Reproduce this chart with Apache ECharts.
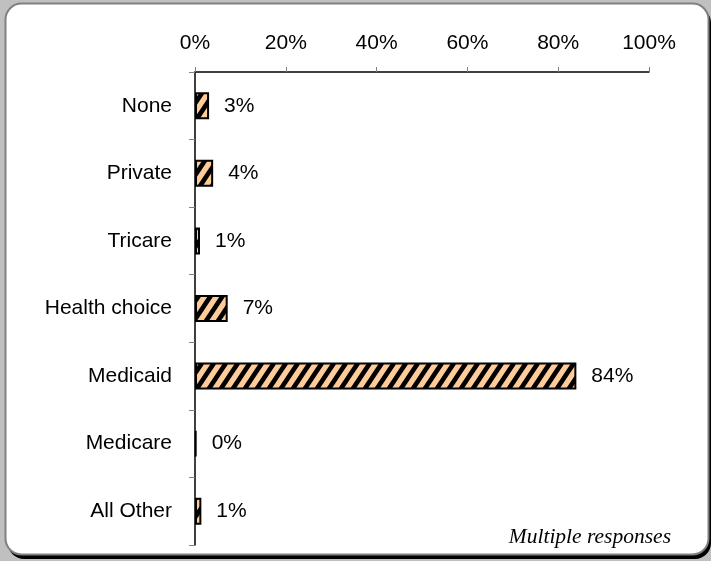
<!DOCTYPE html>
<html><head><meta charset="utf-8">
<script src="https://cdn.jsdelivr.net/npm/echarts@6/dist/echarts.min.js"></script>
<style>html,body{margin:0;padding:0;background:#c0c0c0;}#c{width:711px;height:561px;}</style>
</head><body><div id="c"></div>
<script>
var categories = ['None', 'Private', 'Tricare', 'Health choice', 'Medicaid', 'Medicare', 'All Other'];
var values = [3.1, 4.0, 1.1, 7.2, 84.0, 0.3, 1.4];
var tickLabels = ['0%', '20%', '40%', '60%', '80%', '100%'];

function makePattern() {
  var w = 12, h = 18;
  var cv = document.createElement('canvas');
  cv.width = w; cv.height = h;
  var ctx = cv.getContext('2d');
  ctx.fillStyle = '#FFCC99';
  ctx.fillRect(0, 0, w, h);
  ctx.strokeStyle = '#000';
  ctx.lineWidth = 4.6;
  ctx.beginPath();
  for (var k = -2; k <= 2; k++) {
    ctx.moveTo(k * w - w, 2 * h); ctx.lineTo(k * w + 2 * w, -h);
  }
  ctx.stroke();
  return cv;
}

var FONT = 'Liberation Sans, Arial, sans-serif';
var chart = echarts.init(document.getElementById('c'));
chart.setOption({
  backgroundColor: '#c0c0c0',
  animation: false,
  graphic: [
    { type: 'rect', z: -10, shape: { x: 8, y: 7, width: 703, height: 552, r: 16 }, style: { fill: '#000' } },
    { type: 'rect', z: -9, shape: { x: 5.5, y: 3.5, width: 703, height: 551, r: 16 }, style: { fill: '#fff', stroke: '#808080', lineWidth: 2 } },
    { type: 'text', right: 40, top: 526, style: { text: 'Multiple responses', font: 'italic 21.5px "Liberation Serif", serif', fill: '#000' } }
  ],
  grid: { left: 195, right: 62, top: 72, height: 473, containLabel: false },
  xAxis: {
    type: 'value', position: 'top', min: 0, max: 100, interval: 20,
    axisLine: { show: true, lineStyle: { color: '#000', width: 1.5 } },
    axisTick: { show: true, length: 5, lineStyle: { color: '#808080' } },
    splitLine: { show: false },
    axisLabel: { margin: 18, fontSize: 21, color: '#000', fontFamily: FONT,
      formatter: function (v) { return tickLabels[Math.round(v / 20)]; } }
  },
  yAxis: {
    type: 'category', data: categories, inverse: true,
    axisLine: { show: true, lineStyle: { color: '#000', width: 1.5 } },
    axisTick: { show: true, length: 6, lineStyle: { color: '#808080' } },
    axisLabel: { margin: 23, fontSize: 21, color: '#000', fontFamily: FONT }
  },
  series: [{
    type: 'bar', data: values, barWidth: 27,
    itemStyle: { color: { image: makePattern(), repeat: 'repeat' }, borderColor: '#000', borderWidth: 2 },
    label: { show: true, position: 'right', distance: 15, fontSize: 21, color: '#000', fontFamily: FONT,
      formatter: function (p) { return Math.round(p.value) + '%'; } }
  }]
});
</script></body></html>
